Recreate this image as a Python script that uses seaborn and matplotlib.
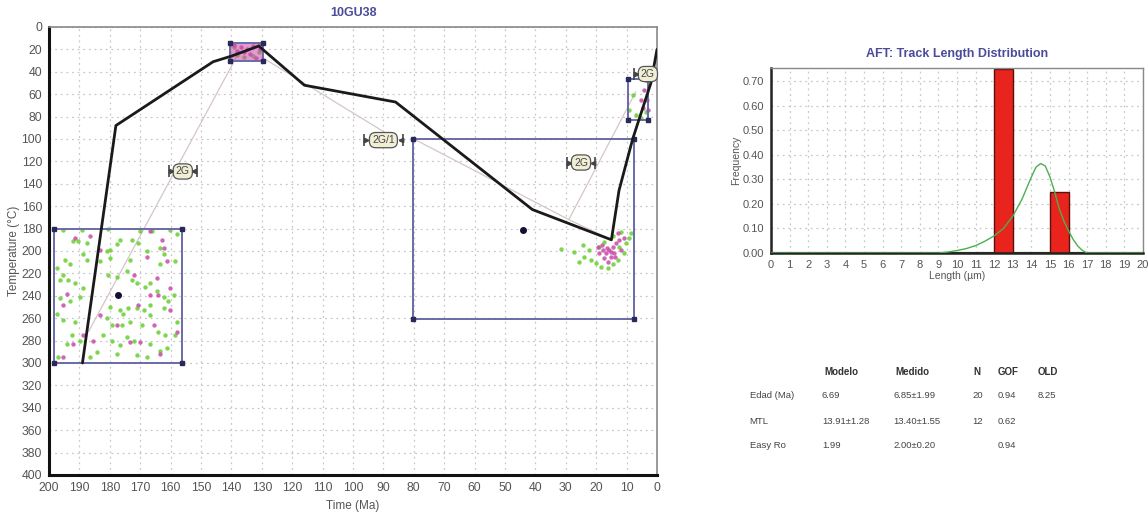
import numpy as np
import pandas as pd
import matplotlib
matplotlib.use("Agg")
import matplotlib.pyplot as plt
import matplotlib.transforms as mtransforms
from matplotlib.patches import Rectangle
import seaborn as sns

# ---------------- thermal history (time in Ma, temperature in °C) ----------------
best_time = [189, 178, 146, 140, 131, 116, 86, 41, 15, 12.5, 8, 2, 0]
best_temp = [300, 88, 31, 26, 17, 52, 67, 163, 190, 146, 100, 50, 20]

# links between constraint boxes
link_segments = [
    ([138, 187], [25, 272]),
    ([130, 89], [27, 95]),
    ([80, 29, 15], [100, 172, 190]),
    ([29, 7], [172, 58]),
]

# constraint boxes: (t_old, t_young, T_top, T_bottom)
box_t_old = [198.4, 140.5, 80.4, 9.6]
box_t_young = [156.3, 129.5, 7.6, 3.0]
box_T_top = [180, 14, 100, 46]
box_T_bot = [300, 30, 261, 83]

# tags of constraints
tag_text = ["2G", "2G/1", "2G", "2G"]
tag_time = [156, 90, 25, 3]
tag_temp = [129, 101, 121, 42]

# box centres
centre_time = [177.3, 44.0]
centre_temp = [239, 181]

# random-search path points (green = acceptable, magenta = good)
green_t = [195.3, 189.3, 180.5, 170.0, 172.8, 170.6, 166.2, 160.1, 157.9, 192.0, 190.4, 187.6,
           176.6, 177.7, 179.9, 181.0, 188.7, 187.6, 167.8, 163.4, 162.3, 158.4, 163.4, 173.3,
           179.9, 183.2, 194.8, 193.1, 197.5, 195.3, 196.4, 193.7, 191.5, 188.7, 189.8, 180.5,
           177.7, 174.4, 172.8, 171.1, 168.4, 166.7, 164.5, 162.3, 159.0, 160.7, 196.4, 193.1,
           179.9, 176.6, 175.5, 173.9, 171.1, 168.9, 166.7, 162.3, 197.5, 195.3, 191.5, 192.6,
           189.8, 194.2, 181.0, 179.4, 176.1, 173.3, 169.5, 166.7, 164.0, 161.8, 158.4, 157.9,
           174.4, 172.2, 166.7, 163.4, 161.2, 184.3, 186.5, 177.7, 171.1, 167.8, 197.0, 182.1,
           179.4, 176.6,
           138, 136, 133, 131, 139,
           31.6, 27.3, 24.4, 24.0, 21.7, 20.1, 18.5, 16.1, 14.5, 12.9, 10.9, 9.2, 8.6, 11.9,
           14.5, 19.1, 22.4, 25.7, 17.5, 12.5, 10.2,
           7.9, 9.2, 6.9, 5.3, 3.6]
green_T = [181, 181, 180, 182, 190, 193, 182, 181, 185, 191, 191, 193,
           190, 194, 199, 200, 203, 208, 200, 197, 203, 209, 212, 208,
           206, 209, 208, 212, 215, 221, 226, 226, 229, 233, 241, 221,
           223, 218, 226, 229, 232, 229, 236, 241, 239, 245, 242, 245,
           250, 253, 256, 251, 251, 253, 248, 251, 256, 262, 263, 275,
           280, 283, 260, 266, 266, 263, 266, 257, 272, 275, 275, 263,
           277, 280, 283, 289, 287, 290, 295, 292, 293, 295, 295, 275,
           280, 284,
           25, 27, 26, 22, 18,
           198, 201, 195, 205, 208, 211, 214, 215, 212, 208, 202, 188, 184, 183,
           187, 196, 199, 210, 192, 196, 193,
           61, 74, 79, 81, 76]
magenta_t = [191.5, 186.5, 166.7, 162.9, 162.3, 167.8, 161.2, 183.2, 194.2, 195.3, 188.7, 192.0,
             185.4, 172.2, 164.5, 166.7, 164.0, 170.6, 165.6, 160.1, 177.7, 173.3, 170.0, 157.9,
             163.4, 195.3, 183.2, 160.1,
             139, 137, 135, 133, 131, 136, 134, 130.5, 138, 132,
             19.4, 17.8, 16.8, 15.8, 14.5, 13.5, 12.5, 15.2, 17.5, 14.2, 11.9, 16.1, 19.1, 10.9,
             12.9, 18.0, 16.5, 15.0, 13.8,
             3.6, 4.3, 3.3, 4.6, 5.3, 3.0]
magenta_T = [188, 187, 182, 190, 197, 205, 209, 199, 238, 248, 275, 283,
             280, 221, 224, 239, 239, 248, 266, 253, 266, 281, 281, 272,
             292, 295, 257, 233,
             16, 18, 20, 17, 16, 22, 24, 20, 21, 28,
             196, 199, 202, 199, 196, 193, 190, 205, 206, 202, 199, 210, 202, 188,
             184, 195, 197, 201, 205,
             47, 56, 65, 72, 65, 74]

# ---------------- track length distribution ----------------
bin_left = np.arange(9, 17)
bin_freq = [0, 0, 0, 0.75, 0, 0, 0.25, 0]
model_len = [0, 9.0, 9.5, 10, 10.5, 11, 11.5, 12, 12.5, 13, 13.5, 14, 14.25, 14.5, 14.75,
             15, 15.25, 15.5, 15.75, 16, 16.25, 16.5, 16.75, 17, 20]
model_pdf = [0, 0, 0.004, 0.01, 0.018, 0.03, 0.048, 0.07, 0.1, 0.15, 0.22, 0.31, 0.35, 0.365,
             0.355, 0.31, 0.25, 0.18, 0.13, 0.09, 0.055, 0.028, 0.01, 0, 0]

table_cols = ["Modelo", "Medido", "N", "GOF", "OLD"]
table_rows = ["Edad (Ma)", "MTL", "Easy Ro"]
table_vals = [["6.69", "6.85±1.99", "20", "0.94", "8.25"],
              ["13.91±1.28", "13.40±1.55", "12", "0.62", ""],
              ["1.99", "2.00±0.20", "", "0.94", ""]]

# ---------------- style ----------------
sns.set_theme(style="white")
plt.rcParams["font.family"] = ["Liberation Sans", "DejaVu Sans"]
GREEN = "#6fd23a"
MAGENTA = "#c94aa8"
BOXC = "#6a6aa8"
TICKC = "#555555"

fig = plt.figure(figsize=(11.48, 5.14), dpi=100)
ax = fig.add_axes([0.0427, 0.0759, 0.5296, 0.8716])
ax2 = fig.add_axes([0.6716, 0.5078, 0.3240, 0.3600])

# ---------------- left: time-temperature panel ----------------
ax.set_xlim(200, 0)
ax.set_ylim(400, 0)
ax.set_xticks(np.arange(0, 201, 10))
ax.set_yticks(np.arange(0, 401, 20))
ax.grid(True, color="#c8c8c8", linestyle=(0, (1.5, 3)), linewidth=0.9)
ax.tick_params(axis="both", labelsize=8.8, colors=TICKC, length=3, width=0.8,
               direction="out", pad=2)
ax.tick_params(axis="both", color="#222222")
for side in ("top", "right"):
    ax.spines[side].set_color("#888888")
    ax.spines[side].set_linewidth(1.2)
for side in ("left", "bottom"):
    ax.spines[side].set_color("#111111")
    ax.spines[side].set_linewidth(2.2)

for tt, TT in link_segments:
    ax.plot(tt, TT, color="#d6c6c6", lw=0.9, zorder=2)

sns.scatterplot(x=green_t, y=green_T, ax=ax, color=GREEN, s=10, linewidth=0,
                alpha=0.9, zorder=3, legend=False)
sns.scatterplot(x=magenta_t, y=magenta_T, ax=ax, color=MAGENTA, s=10, linewidth=0,
                alpha=0.85, zorder=3, legend=False)

for t0, t1, T0, T1 in zip(box_t_old, box_t_young, box_T_top, box_T_bot):
    ax.add_patch(Rectangle((t1, T0), t0 - t1, T1 - T0, fill=False,
                           edgecolor=BOXC, lw=1.4, zorder=4))
    ax.plot([t0, t1, t0, t1], [T0, T0, T1, T1], ls="none", marker="s", ms=2.5,
            color="#2a2a5a", zorder=4)
# densely sampled peak box
ax.add_patch(Rectangle((box_t_young[1], box_T_top[1]), box_t_old[1] - box_t_young[1],
                       box_T_bot[1] - box_T_top[1], color=MAGENTA, alpha=0.55, lw=0, zorder=3))

best = pd.DataFrame({"time": best_time, "temp": best_temp})
sns.lineplot(data=best, x="time", y="temp", sort=False, ax=ax, color="#1a1a1a",
             lw=2.0, zorder=5)
ax.plot(centre_time, centre_temp, ls="none", marker="o", ms=4, color="#111133", zorder=6)

for txt, tx, ty in zip(tag_text, tag_time, tag_temp):
    ax.text(tx, ty, txt, ha="center", va="center", fontsize=7.5, color="#444444", zorder=7,
            bbox=dict(boxstyle="round,pad=0.25,rounding_size=0.6", fc="#f1eed6",
                      ec="#555555", lw=0.9))
    half = 2.2 * len(txt) + 5.5
    for dx, mk in ((-half, "|"), (half, "|"), (-half + 1.5, ">"), (half - 1.5, "<")):
        tr = mtransforms.offset_copy(ax.transData, fig=fig, x=dx, y=0, units="points")
        ax.plot([tx], [ty], marker=mk, ms=8 if mk == "|" else 3, mew=1.2,
                color="#444444", transform=tr, zorder=8)

ax.set_xlabel("Time (Ma)", fontsize=8.5, color=TICKC, labelpad=2)
ax.xaxis.set_label_coords(0.5, -0.055)
ax.set_ylabel("Temperature (°C)", fontsize=8.5, color=TICKC, labelpad=1)
ax.set_title("10GU38", fontsize=9, color="#4b4b9a", fontweight="bold", pad=8)

# ---------------- right: track length histogram ----------------
ax2.set_xlim(0, 20)
ax2.set_ylim(0, 0.755)
ax2.set_xticks(np.arange(0, 21, 1))
ax2.set_yticks(np.arange(0, 0.71, 0.1))
ax2.set_yticklabels([f"{v:.2f}" for v in np.arange(0, 0.71, 0.1)])
ax2.grid(True, color="#c8c8c8", linestyle=(0, (1.5, 3)), linewidth=0.9)
ax2.set_axisbelow(True)
ax2.bar(bin_left, bin_freq, width=1, align="edge", color="#e8241c",
        edgecolor="#5a1010", lw=1.0, zorder=2)
curve = pd.DataFrame({"length": model_len, "pdf": model_pdf})
sns.lineplot(data=curve, x="length", y="pdf", ax=ax2, color="#4caf50", lw=1.0, zorder=3)
ax2.axhline(0, color="#2e6b2e", lw=1.6, zorder=1)
ax2.tick_params(axis="both", labelsize=8, colors=TICKC, length=3, width=0.8, pad=2)
ax2.tick_params(axis="both", color="#222222")
for side in ("top", "right"):
    ax2.spines[side].set_color("#888888")
    ax2.spines[side].set_linewidth(1.0)
for side in ("left", "bottom"):
    ax2.spines[side].set_color("#222222")
    ax2.spines[side].set_linewidth(1.8)
ax2.set_xlabel("Length (µm)", fontsize=7.5, color=TICKC, labelpad=1)
ax2.set_ylabel("Frequency", fontsize=7.5, color=TICKC, labelpad=1)
ax2.set_title("AFT: Track Length Distribution", fontsize=9, color="#4b4b9a",
              fontweight="bold", pad=8)

# ---------------- summary table ----------------
col_x = [0.716, 0.778, 0.847, 0.869, 0.904]
head_x = [0.733, 0.795, 0.851, 0.878, 0.913]
row_y = [0.277, 0.231, 0.180, 0.134]
for h, x in zip(table_cols, head_x):
    fig.text(x, row_y[0], h, ha="center", va="center", fontsize=7, fontweight="bold",
             color="#333333")
for r, (name, vals) in enumerate(zip(table_rows, table_vals)):
    y = row_y[r + 1]
    fig.text(0.653, y, name, ha="left", va="center", fontsize=6.8, color="#444444")
    for v, x in zip(vals, col_x):
        fig.text(x, y, v, ha="left", va="center", fontsize=6.8, color="#444444")

fig.savefig("out.png", dpi=100)
